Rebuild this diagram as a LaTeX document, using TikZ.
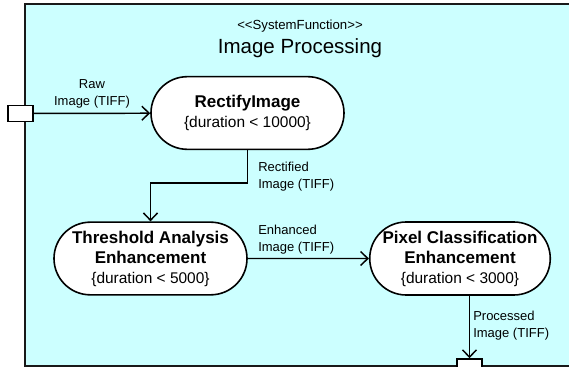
\documentclass[tikz,border=0pt]{standalone}
\usepackage{fontspec}
\setmainfont{Liberation Sans}
\usetikzlibrary{arrows.meta,shapes.misc}
\definecolor{framecyan}{HTML}{CCFFFF}
\colorlet{anthracite}{black!90}
\tikzstyle{frame} = [%
	draw=anthracite,
	line width=1.5pt,
	fill=framecyan
]
\tikzstyle{action} = [%
	rounded rectangle,
	draw=black,
	fill=white,
	line width=1.2pt,
	align=center,
	inner sep=0pt,
	font=\fontsize{11.6}{15}\selectfont
]
\tikzstyle{action wide} = [%
	action,
	minimum width=144.75pt,
	minimum height=54.5pt
]
\tikzstyle{action narrow} = [%
	action,
	minimum width=132pt,
	minimum height=54.75pt
]
\tikzstyle{pin box} = [%
	rectangle,
	draw=black,
	fill=white,
	line width=1.2pt,
	minimum width=18.75pt,
	minimum height=12pt,
	inner sep=0pt
]
\tikzstyle{flow label} = [%
	inner sep=0pt,
	align=left,
	font=\fontsize{9.75}{12.75}\selectfont
]
\tikzstyle{flow} = [%
	->,
	>={Straight Barb[length=5.5pt,width=10.5pt]},
	line width=1.1pt
]
\newcommand{\actname}[1]{{\fontsize{12.75}{15}\selectfont\bfseries #1}}

\begin{document}
\begin{tikzpicture}[x=0.75pt,y=-0.75pt]

\clip (0,0) rectangle (569,367);

% system function frame
\draw[frame] (25,4) rectangle (620,366);
\node[font=\fontsize{9.9}{12}\selectfont] (stereo) at (300,26) {<\kern0pt<SystemFunction>\kern0pt>};
\node[font=\fontsize{15.4}{18}\selectfont] (title) at (300,48) {Image Processing};

% pins
\node[pin box] (raw pin) at (20.5,113.5) {};
\node[pin box] (out pin) at (469.5,367) {};

% actions
\node[action wide] (rectify) at (247.5,113) {%
	\actname{RectifyImage}\\\{duration < 10000\}
};
\node[action wide] (threshold) at (150.5,258.5) {%
	\actname{Threshold Analysis}\\\actname{Enhancement}\\\{duration < 5000\}
};
\node[action narrow] (pixel) at (460,258.5) {%
	\actname{Pixel Classification}\\\actname{Enhancement}\\\{duration < 3000\}
};

% object flows
\coordinate (bend) at (150.5,183);
\draw[flow] (raw pin) -- (rectify);
\draw[flow] (rectify.south) |- (bend) -- (threshold.north);
\draw[flow] (threshold) -- (pixel);
\draw[flow] (out pin.north |- pixel.south) -- (out pin.north);

% flow labels
\node[flow label, align=center] (raw label) at (92,93.5) {Raw\\Image (TIFF)};
\node[flow label, anchor=west] (rectified label) at (258,177) {Rectified\\Image (TIFF)};
\node[flow label, anchor=west] (enhanced label) at (258,240) {Enhanced\\Image (TIFF)};
\node[flow label, anchor=west] (processed label) at (473,325.5) {Processed\\Image (TIFF)};

\end{tikzpicture}
\end{document}
